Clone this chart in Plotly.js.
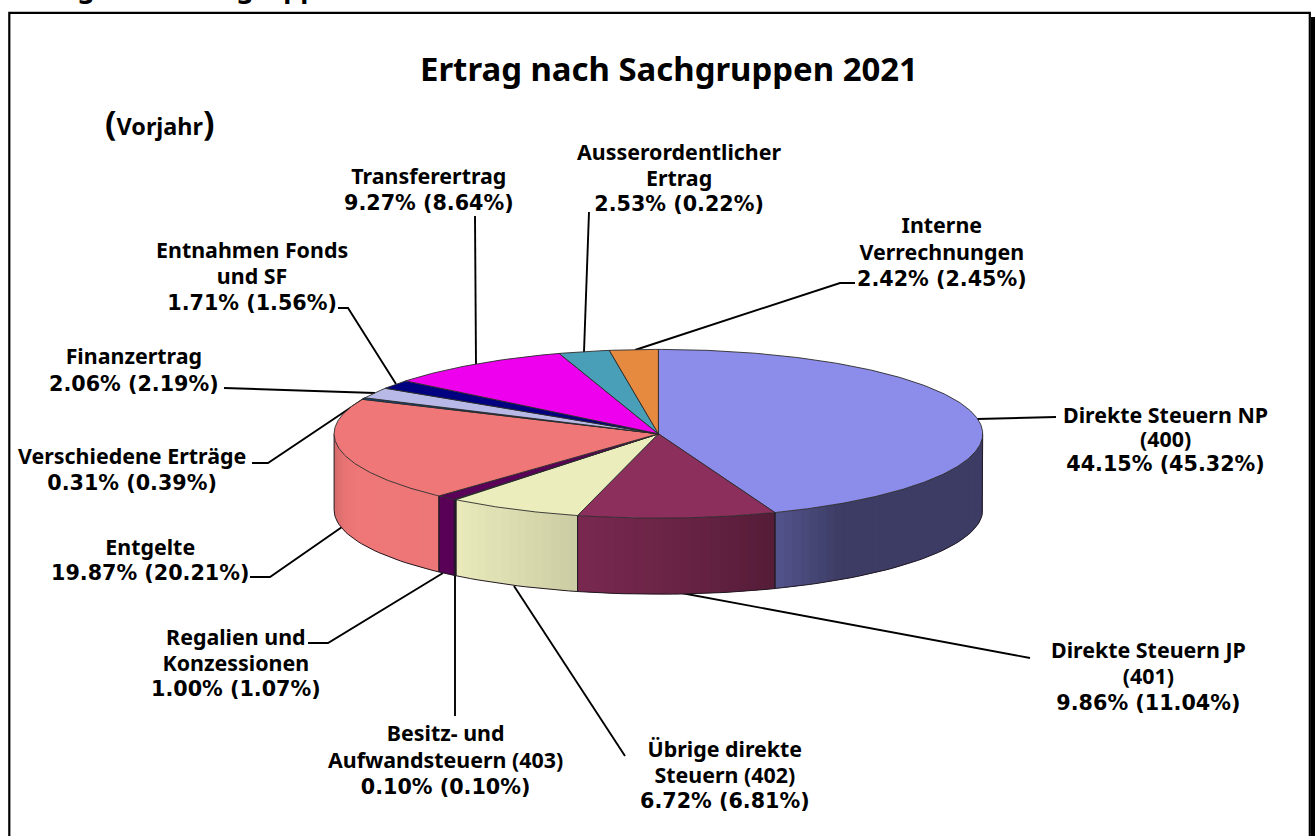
<!DOCTYPE html>
<html><head><meta charset="utf-8">
<script src="https://cdn.plot.ly/plotly-3.0.1.min.js"></script>
<style>html,body{margin:0;padding:0;background:#fff;overflow:hidden}</style>
</head><body><div id="chart" style="width:1316px;height:836px"></div>
<script>
// ---- data ----
const categories = ["Direkte Steuern NP (400)","Direkte Steuern JP (401)","Übrige direkte Steuern (402)","Besitz- und Aufwandsteuern (403)","Regalien und Konzessionen","Entgelte","Verschiedene Erträge","Finanzertrag","Entnahmen Fonds und SF","Transferertrag","Ausserordentlicher Ertrag","Interne Verrechnungen"];
const shares2021 = [44.15,9.86,6.72,0.10,1.00,19.87,0.31,2.06,1.71,9.27,2.53,2.42];
const sharesPrior = [45.32,11.04,6.81,0.10,1.07,20.21,0.39,2.19,1.56,8.64,0.22,2.45];
const sliceColours = ["#8c8ceb","#8c2f5c","#ecedbd","#10104a","#5a0058","#ef7777","#0a4a8a","#b9b9e8","#000080","#ee00ee","#4a9fb8","#e58a3f"];
const nameLines = [["Direkte Steuern NP","(400)"],["Direkte Steuern JP","(401)"],["Übrige direkte","Steuern (402)"],["Besitz- und","Aufwandsteuern (403)"],["Regalien und","Konzessionen"],["Entgelte"],["Verschiedene Erträge"],["Finanzertrag"],["Entnahmen Fonds","und SF"],["Transferertrag"],["Ausserordentlicher","Ertrag"],["Interne","Verrechnungen"]];

// ---- layout constants ----
const cx=658.4, cy=433.8, rx=324.3, ry=84.4, depth=76;
const labelX = [1165,1148,725,445,236,150,132,134,252,429,679,942];
const labelMidY = [438,675,773,758,661,558,468,368,275,188,176,250];
const labelGap = [24,26,25.5,26.5,25.5,25,26,27,26,26,25.5,26.5];
const leaders = [
 [[977,419],[1056,417]],
 [[676,592],[1030,658]],
 [[514,586],[625,756]],
 [[455,574],[455,716]],
 [[443,573],[328,643],[308,643]],
 [[342,527],[270,577],[250,577]],
 [[365,398],[268,463],[252,463]],
 [[375,393],[224,388]],
 [[396,384],[348,308],[338,308]],
 [[476,364],[475,216]],
 [[584,352],[589,212]],
 [[635,350],[840,283],[855,283]]
];
const shadeStops = [[330,0.86],[345,0.97],[360,1],[455,0.99],[578,0.86],[700,0.72],[775,0.6],[840,0.43],[990,0.43]];
const FONT = "Noto Sans, DejaVu Sans, sans-serif";

// ---- geometry helpers ----
const px = a => cx + rx*Math.sin(a);
const py = a => cy - ry*Math.cos(a);
function shade(x){
  for(let i=1;i<shadeStops.length;i++){
    if(x<=shadeStops[i][0]){
      const [x0,f0]=shadeStops[i-1],[x1,f1]=shadeStops[i];
      const t=Math.max(0,(x-x0)/(x1-x0));
      return f0+(f1-f0)*t;
    }
  }
  return shadeStops[shadeStops.length-1][1];
}
function tint(hex,f){
  const n=parseInt(hex.slice(1),16);
  const c=[n>>16&255,n>>8&255,n&255].map(v=>Math.round(v*f));
  return `rgb(${c[0]},${c[1]},${c[2]})`;
}
const total = shares2021.reduce((a,b)=>a+b,0);
const edges=[0];
shares2021.forEach(v=>edges.push(edges[edges.length-1]+v/total*2*Math.PI));

const wallTraces=[], wallLines=[], topTraces=[];
const base={type:'scatter',mode:'lines',hoverinfo:'skip',showlegend:false};
const lowA=Math.PI/2, highA=3*Math.PI/2;
shares2021.forEach((v,i)=>{
  // side wall of the slice, split in overlapping strips for the shading
  const a0=Math.max(edges[i],lowA), a1=Math.min(edges[i+1],highA);
  if(a1>a0){
    const n=Math.max(1,Math.ceil((a1-a0)/0.03));
    for(let k=n-1;k>=0;k--){
      const s=a0+(a1-a0)*k/n, e=a0+(a1-a0)*(k+1)/n;
      const s0=a0+(a1-a0)*Math.max(k-1,0)/n;
      const col=tint(sliceColours[i],shade((px(s)+px(e))/2));
      wallTraces.push({...base,fill:'toself',fillcolor:col,line:{color:col,width:0},
        x:[px(s0),px(s),px(e),px(e),px(s),px(s0),px(s0)],
        y:[py(s0),py(s),py(e),py(e)+depth,py(s)+depth,py(s0)+depth,py(s0)]});
    }
    // bottom rim of the wall and its vertical edges
    const xs=[px(a0)],ys=[py(a0)];
    for(let k=0;k<=n;k++){const s=a0+(a1-a0)*k/n; xs.push(px(s)); ys.push(py(s)+depth);}
    xs.push(px(a1)); ys.push(py(a1));
    wallLines.push({...base,x:xs,y:ys,line:{color:'#241a24',width:1}});
  }
  // top face wedge
  const xs=[cx],ys=[cy],m=Math.max(2,Math.ceil((edges[i+1]-edges[i])/0.01));
  for(let k=0;k<=m;k++){const s=edges[i]+(edges[i+1]-edges[i])*k/m; xs.push(px(s)); ys.push(py(s));}
  xs.push(cx); ys.push(cy);
  topTraces.push({...base,name:categories[i],fill:'toself',fillcolor:sliceColours[i],x:xs,y:ys,line:{color:'#2a2a2a',width:0.9}});
});

// ---- text ----
const annotations=[];
const txt=(x,y,text,size)=>annotations.push({xref:'x',yref:'y',x,y,text,showarrow:false,xanchor:'center',yanchor:'middle',
  font:{family:FONT,size:size,color:'#000'},align:'center',borderpad:0});
categories.forEach((c,i)=>{
  const names=nameLines[i].map(t=>`<span style="font-size:21.4px">${t}</span>`);
  const pct=`<span style="font-family:'DejaVu Sans';font-size:20.7px">${shares2021[i].toFixed(2)}% (${sharesPrior[i].toFixed(2)}%)</span>`;
  txt(labelX[i],labelMidY[i],'<b>'+[...names,pct].join('<br>')+'</b>',labelGap[i]/1.3);
});
txt(669,68,'<b>Ertrag nach Sachgruppen 2021</b>',32.9);
txt(160,122,'<b><span style="font-size:34px">(</span>Vorjahr<span style="font-size:34px">)</span></b>',23.4);
annotations.push({xref:'x',yref:'paper',x:181,y:1+12.5/836,text:'<b>Ertrag nach Sachgruppen</b>',showarrow:false,xanchor:'center',yanchor:'middle',font:{family:FONT,size:27,color:'#000'}});

// ---- frame and leader lines ----
const shapes=[
 {type:'rect',xref:'x',yref:'y',x0:1311,x1:1315,y0:17,y1:836,fillcolor:'#000',line:{width:0},layer:'below'},
 {type:'path',xref:'x',yref:'y',path:'M9.3,836 L9.3,12.8 L1309.8,12.8 L1309.8,836',line:{color:'#000',width:2.2},layer:'below'}
];
leaders.forEach(pts=>shapes.push({type:'path',xref:'x',yref:'y',
  path:'M'+pts.map(p=>p.join(',')).join(' L'),line:{color:'#000',width:1.9},layer:'below'}));

Plotly.newPlot('chart',[...wallTraces,...wallLines,...topTraces],{
  width:1316,height:836,margin:{l:0,r:0,t:0,b:0,pad:0},
  paper_bgcolor:'#fff',plot_bgcolor:'#fff',showlegend:false,
  xaxis:{range:[0,1316],visible:false,fixedrange:true},
  yaxis:{range:[836,0],visible:false,fixedrange:true},
  annotations,shapes
},{displayModeBar:false,staticPlot:true});
</script></body></html>
